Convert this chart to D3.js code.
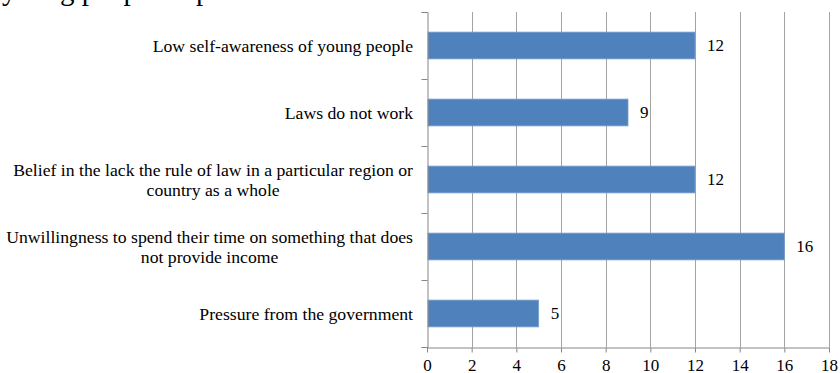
<!DOCTYPE html>
<html>
<head>
<meta charset="utf-8">
<script src="https://cdn.jsdelivr.net/npm/d3@7"></script>
<style>
  body { margin: 0; background: #fff; }
  text { font-family: "Liberation Serif", "Times New Roman", serif; fill: #000; }
</style>
</head>
<body>
<div id="chart"></div>
<script>
// horizontal bars, excel-ish look
const categories = [
  ["Low self-awareness of young people"],
  ["Laws do not work"],
  ["Belief in the lack the rule of law in a particular region or", "country as a whole"],
  ["Unwillingness to spend their time on something that does", "not provide income"],
  ["Pressure from the government"]
];
const values = [12, 9, 12, 16, 5];
const xTicks = [0, 2, 4, 6, 8, 10, 12, 14, 16, 18];
const titleText = "young people in politics";

const width = 840, height = 373;
const plotLeft = 427, plotRight = 829, plotTop = 12, plotBottom = 347;
const labelSize = 17.7, numSize = 17;

const svg = d3.select("#chart").append("svg")
  .attr("width", width)
  .attr("height", height);

// title cut off at top of the picture, only descenders show
svg.append("text")
  .attr("x", 2)
  .attr("y", 0)
  .attr("font-size", 29)
  .text(titleText);

const x = d3.scaleLinear().domain([0, 18]).range([plotLeft, plotRight]);
const y = d3.scaleBand()
  .domain(d3.range(categories.length))
  .range([plotTop, plotBottom])
  .paddingInner(0.6)
  .paddingOuter(0.3);
const yEdges = d3.scaleLinear().domain([0, categories.length]).range([plotTop, plotBottom]);

// gridlines
svg.append("g")
  .selectAll("line")
  .data(xTicks.filter(d => d > 0))
  .join("line")
  .attr("x1", d => Math.round(x(d)) + 0.5)
  .attr("x2", d => Math.round(x(d)) + 0.5)
  .attr("y1", plotTop)
  .attr("y2", plotBottom)
  .attr("stroke", "#a3a3a3");

// bars
svg.append("g")
  .selectAll("rect")
  .data(values)
  .join("rect")
  .attr("x", x(0) + 1)
  .attr("y", (d, i) => y(i))
  .attr("width", d => x(d) - x(0) - 1)
  .attr("height", y.bandwidth())
  .attr("fill", "#4f81bd")
  .attr("stroke", "#7a9fd0")
  .attr("stroke-width", 0.8);

// value labels
svg.append("g")
  .attr("font-size", numSize)
  .selectAll("text")
  .data(values)
  .join("text")
  .attr("x", d => x(d) + 12)
  .attr("y", (d, i) => y(i) + y.bandwidth() / 2)
  .attr("dy", "0.35em")
  .text(d => d);

// y axis with ticks at band edges
const yAxis = svg.append("g")
  .attr("transform", `translate(${plotLeft + 0.5},0)`)
  .call(d3.axisLeft(yEdges).ticks(categories.length).tickSize(6).tickFormat(""));
yAxis.select(".domain").attr("stroke", "#868686");
yAxis.selectAll(".tick line").attr("stroke", "#868686");

// x axis
const xAxis = svg.append("g")
  .attr("transform", `translate(0,${plotBottom + 0.5})`)
  .call(d3.axisBottom(x).tickValues(xTicks).tickSize(5).tickSizeOuter(0).tickPadding(6));
xAxis.select(".domain").attr("stroke", "#868686");
xAxis.selectAll(".tick line").attr("stroke", "#868686");
xAxis.selectAll(".tick text")
  .attr("font-family", "Liberation Serif, serif")
  .attr("font-size", numSize)
  .attr("fill", "#000");

// category labels: block right-aligned, lines centred in block
const labelRight = 413, lineH = 20;
const lab = svg.append("g").attr("font-size", labelSize);
categories.forEach((lines, i) => {
  const cy = y(i) + y.bandwidth() / 2;
  const t = lab.append("text").attr("text-anchor", "middle");
  const spans = t.selectAll("tspan")
    .data(lines)
    .join("tspan")
    .attr("y", (d, j) => cy + (j - (lines.length - 1) / 2) * lineH)
    .attr("dy", "0.35em")
    .text(d => d);
  const w = d3.max(spans.nodes(), n => n.getComputedTextLength());
  spans.attr("x", labelRight - w / 2);
});
</script>
</body>
</html>
